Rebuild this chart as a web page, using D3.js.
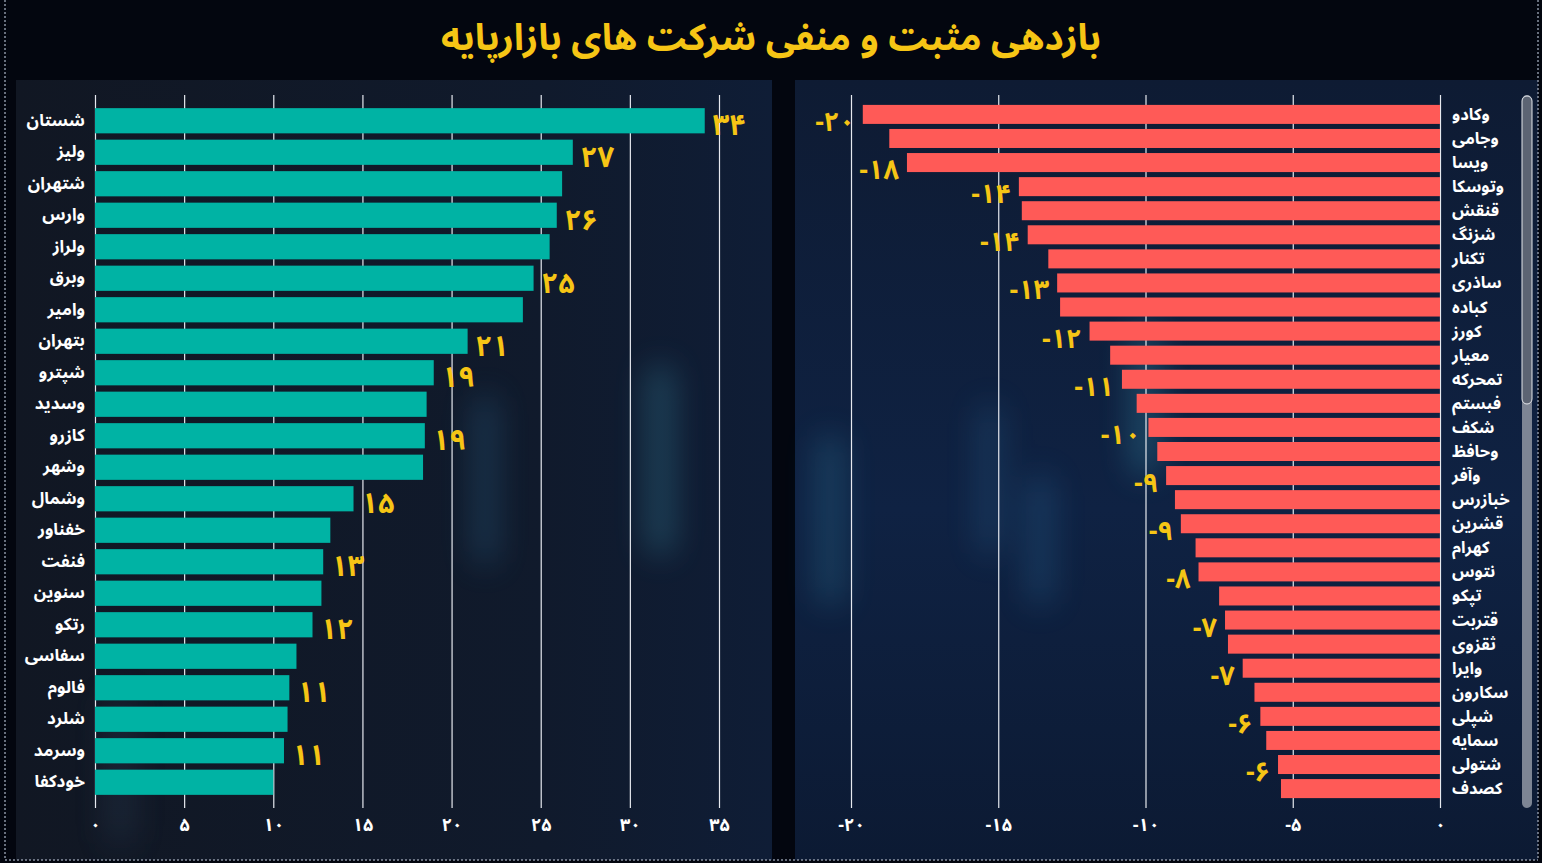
<!DOCTYPE html>
<html>
<head>
<meta charset="utf-8">
<script src="https://cdn.jsdelivr.net/npm/d3@7"></script>
<style>
  html, body { margin: 0; padding: 0; background: #03060f; }
  svg { display: block; }
  .tick text { font-family: "Noto Sans Arabic", "DejaVu Sans", sans-serif; font-weight: bold; }
</style>
</head>
<body>
<div id="chart"></div>
<script>
// positive side (left panel)
const posNames = ['شستان', 'ولیز', 'شتهران', 'وارس', 'ولراز', 'وبرق', 'وامیر', 'بتهران', 'شپترو', 'وسدید', 'کازرو',
  'وشهر', 'وشمال', 'خفناور', 'فنفت', 'سنوین', 'رتکو', 'سفاسی', 'فالوم', 'شلرد', 'وسرمد', 'خودکفا'];
const posValues = [34.2, 26.8, 26.2, 25.9, 25.5, 24.6, 24.0, 20.9, 19.0, 18.6, 18.5,
  18.4, 14.5, 13.2, 12.8, 12.7, 12.2, 11.3, 10.9, 10.8, 10.6, 10.0];
// which bars carry a value label (null = no label)
const posLabels = [34, 27, null, 26, null, 25, null, 21, 19, null, 19,
  null, 15, null, 13, null, 12, null, 11, null, 11, null];
const posTicks = [0, 5, 10, 15, 20, 25, 30, 35];

// negative side (right panel)
const negNames = ['وکادو', 'وجامی', 'ویسا', 'وتوسکا', 'قنقش', 'شزنگ', 'تکنار', 'ساذری', 'کباده', 'کورز',
  'معیار', 'تمحرکه', 'فبستم', 'شکف', 'وحافظ', 'وآفر', 'خبازرس', 'قشرین', 'کهرام', 'نتوس',
  'تپکو', 'قتربت', 'ثقزوی', 'وایرا', 'سکارون', 'شپلی', 'سمایه', 'شتولی', 'کصدف'];
const negValues = [-19.6, -18.7, -18.1, -14.3, -14.2, -14.0, -13.3, -13.0, -12.9, -11.9,
  -11.2, -10.8, -10.3, -9.9, -9.6, -9.3, -9.0, -8.8, -8.3, -8.2,
  -7.5, -7.3, -7.2, -6.7, -6.3, -6.1, -5.9, -5.5, -5.4];
const negLabels = [-20, null, -18, -14, null, -14, null, -13, null, -12,
  null, -11, null, -10, null, -9, null, -9, null, -8,
  null, -7, null, -7, null, -6, null, -6, null];
const negTicks = [-20, -15, -10, -5, 0];

const title = 'بازدهی مثبت و منفی شرکت های بازارپایه';

const W = 1542, H = 863;
const FONT = '"Noto Sans Arabic", "DejaVu Sans", sans-serif';
const faDigits = '۰۱۲۳۴۵۶۷۸۹';
const toFa = v => String(v).replace(/\d/g, d => faDigits[d]);

const svg = d3.select('#chart').append('svg')
  .attr('width', W)
  .attr('height', H);

const defs = svg.append('defs');
defs.append('filter').attr('id', 'glow')
  .attr('x', '-50%').attr('y', '-50%').attr('width', '200%').attr('height', '200%')
  .append('feGaussianBlur').attr('stdDeviation', 16);

const rightBg = defs.append('linearGradient').attr('id', 'rightBg')
  .attr('x1', 0).attr('y1', 0).attr('x2', 0).attr('y2', 1);
rightBg.append('stop').attr('offset', '0%').attr('stop-color', '#0e1b33');
rightBg.append('stop').attr('offset', '55%').attr('stop-color', '#0f2243');
rightBg.append('stop').attr('offset', '100%').attr('stop-color', '#0c1a33');

const leftBg = defs.append('linearGradient').attr('id', 'leftBg')
  .attr('x1', 0).attr('y1', 0).attr('x2', 1).attr('y2', 0);
leftBg.append('stop').attr('offset', '0%').attr('stop-color', '#111723');
leftBg.append('stop').attr('offset', '70%').attr('stop-color', '#101a2c');
leftBg.append('stop').attr('offset', '100%').attr('stop-color', '#0f1d36');

// page background + panels
svg.append('rect').attr('width', W).attr('height', H).attr('fill', '#03060f');
svg.append('rect').attr('x', 16).attr('y', 80).attr('width', 756).attr('height', 780).attr('fill', 'url(#leftBg)');
svg.append('rect').attr('x', 795).attr('y', 80).attr('width', 743).attr('height', 780).attr('fill', 'url(#rightBg)');

// soft background glows (decoration)
const glows = svg.append('g').attr('filter', 'url(#glow)').attr('opacity', 0.4);
[[485, 480, 20, 170, '#2f6f9a'], [660, 460, 24, 190, '#3a8fa8'], [830, 520, 22, 170, '#2f7fa0'],
 [990, 480, 18, 150, '#2d6c98'], [1145, 400, 24, 150, '#3aa0b8'], [1040, 540, 22, 130, '#2b6a9a'],
 [120, 770, 22, 150, '#33465f']].forEach(([cx, cy, w, h, c]) => {
  glows.append('rect').attr('x', cx - w / 2).attr('y', cy - h / 2)
    .attr('width', w).attr('height', h).attr('rx', w / 2).attr('fill', c);
});

// dotted frame
const frame = svg.append('g').attr('stroke', '#8a93a3').attr('stroke-width', 1.5)
  .attr('stroke-dasharray', '2,2').attr('fill', 'none');
frame.append('line').attr('x1', 5).attr('x2', 5).attr('y1', 0).attr('y2', 860);
frame.append('line').attr('x1', 1538).attr('x2', 1538).attr('y1', 0).attr('y2', 860);
frame.append('line').attr('x1', 5).attr('x2', 1538).attr('y1', 860).attr('y2', 860);

// title
svg.append('text')
  .attr('x', 771).attr('y', 40)
  .attr('text-anchor', 'middle')
  .attr('dominant-baseline', 'middle')
  .attr('direction', 'rtl')
  .style('font-family', FONT)
  .style('font-weight', 'bold')
  .style('font-size', '37px')
  .style('fill', '#f6c515')
  .text(title);

const gridTop = 95, axisY = 808;

// ---------- left panel ----------
const xPos = d3.scaleLinear().domain([0, 35]).range([95, 719]);
const yPos = d3.scaleBand().domain(posNames).range([105, 798]).paddingInner(0.2).paddingOuter(0.1);

const leftAxis = svg.append('g')
  .attr('transform', `translate(0, ${axisY})`)
  .call(d3.axisBottom(xPos).tickValues(posTicks).tickSize(-(axisY - gridTop)).tickSizeOuter(0)
    .tickPadding(10).tickFormat(toFa));
leftAxis.select('.domain').remove();
leftAxis.selectAll('line').attr('stroke', '#e6e9ef').attr('stroke-width', 1.2);
leftAxis.selectAll('text').attr('fill', '#ffffff').style('font-size', '18px');

svg.append('g').selectAll('rect')
  .data(posValues)
  .join('rect')
  .attr('x', xPos(0))
  .attr('y', (d, i) => yPos(posNames[i]))
  .attr('width', d => xPos(d) - xPos(0))
  .attr('height', yPos.bandwidth())
  .attr('fill', '#00b3a4');

svg.append('g').selectAll('text')
  .data(posNames)
  .join('text')
  .attr('x', 85)
  .attr('y', d => yPos(d) + yPos.bandwidth() / 2)
  .attr('text-anchor', 'end')
  .attr('dominant-baseline', 'central')
  .style('font-family', FONT)
  .style('font-weight', 'bold')
  .style('font-size', '17px')
  .style('fill', '#ffffff')
  .text(d => d);

svg.append('g').selectAll('text')
  .data(posLabels.map((l, i) => ({ l, i })).filter(d => d.l !== null))
  .join('text')
  .attr('x', d => xPos(posValues[d.i]) + 8)
  .attr('y', d => yPos(posNames[d.i]) + yPos.bandwidth() / 2 + 5)
  .attr('text-anchor', 'start')
  .attr('dominant-baseline', 'central')
  .style('font-family', FONT)
  .style('font-weight', 'bold')
  .style('font-size', '29px')
  .style('fill', '#f6c515')
  .text(d => toFa(d.l));

// ---------- right panel ----------
const xNeg = d3.scaleLinear().domain([-20, 0]).range([851, 1440]);
const yNeg = d3.scaleBand().domain(negNames).range([102, 801]).paddingInner(0.21).paddingOuter(0.12);

const rightAxis = svg.append('g')
  .attr('transform', `translate(0, ${axisY})`)
  .call(d3.axisBottom(xNeg).tickValues(negTicks).tickSize(-(axisY - gridTop)).tickSizeOuter(0)
    .tickPadding(10).tickFormat(toFa));
rightAxis.select('.domain').remove();
rightAxis.selectAll('line').attr('stroke', '#e6e9ef').attr('stroke-width', 1.2);
rightAxis.selectAll('text').attr('fill', '#ffffff').style('font-size', '18px');

svg.append('g').selectAll('rect')
  .data(negValues)
  .join('rect')
  .attr('x', d => xNeg(d))
  .attr('y', (d, i) => yNeg(negNames[i]))
  .attr('width', d => xNeg(0) - xNeg(d))
  .attr('height', yNeg.bandwidth())
  .attr('fill', '#ff5a57');

svg.append('g').selectAll('text')
  .data(negNames)
  .join('text')
  .attr('x', 1452)
  .attr('y', d => yNeg(d) + yNeg.bandwidth() / 2)
  .attr('text-anchor', 'start')
  .attr('dominant-baseline', 'central')
  .style('font-family', FONT)
  .style('font-weight', 'bold')
  .style('font-size', '16.5px')
  .style('fill', '#ffffff')
  .text(d => d);

svg.append('g').selectAll('text')
  .data(negLabels.map((l, i) => ({ l, i })).filter(d => d.l !== null))
  .join('text')
  .attr('x', d => xNeg(negValues[d.i]) - 8)
  .attr('y', d => yNeg(negNames[d.i]) + yNeg.bandwidth() / 2 + 8)
  .attr('text-anchor', 'end')
  .attr('dominant-baseline', 'central')
  .style('font-family', FONT)
  .style('font-weight', 'bold')
  .style('font-size', '27px')
  .style('fill', '#f6c515')
  .text(d => toFa(d.l));

// scrollbar on the right edge
svg.append('rect').attr('x', 1522).attr('y', 95).attr('width', 10).attr('height', 713)
  .attr('rx', 5).attr('fill', '#7d8594');
svg.append('rect').attr('x', 1522).attr('y', 96).attr('width', 10).attr('height', 308)
  .attr('rx', 5).attr('fill', '#5c6473').attr('stroke', '#e4e7ec').attr('stroke-width', 1);
</script>
</body>
</html>
